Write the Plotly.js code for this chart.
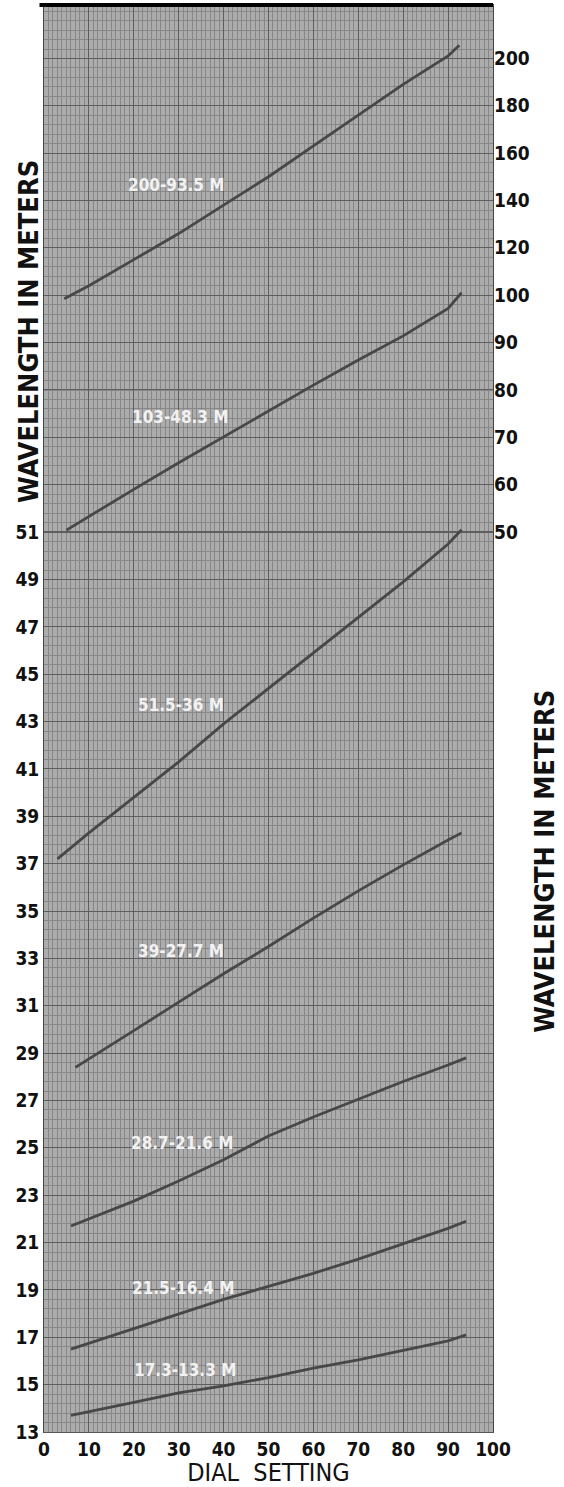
<!DOCTYPE html>
<html>
<head>
<meta charset="utf-8">
<script src="https://cdn.plot.ly/plotly-3.0.1.min.js"></script>
<style>
html,body{margin:0;padding:0;background:#fff;}
#chart{width:564px;height:1487px;}
</style>
</head>
<body>
<div id="chart"></div>
<script>
// ---- data (dial setting vs wavelength in metres) ----
const c1Dial = [4.5, 10, 20, 30, 40, 50, 60, 70, 80, 90, 92.5];
const c1Wave = [98.5, 104, 115, 126, 138, 150, 163, 176, 189, 201, 205.5];
const c2Dial = [5, 10, 20, 30, 40, 50, 60, 70, 80, 90, 93];
const c2Wave = [50.4, 53.3, 59, 64.6, 70.1, 75.6, 81, 86.3, 91.4, 97.2, 100.5];
const c3Dial = [3, 10, 20, 30, 40, 50, 60, 70, 80, 90, 93];
const c3Wave = [37.2, 38.3, 39.8, 41.3, 42.9, 44.4, 45.9, 47.4, 48.9, 50.5, 51.1];
const c4Dial = [7, 10, 20, 30, 40, 50, 60, 70, 80, 90, 93];
const c4Wave = [28.4, 28.75, 29.95, 31.15, 32.35, 33.5, 34.7, 35.85, 36.95, 38.0, 38.3];
const c5Dial = [6, 10, 20, 30, 40, 50, 60, 70, 80, 90, 94];
const c5Wave = [21.7, 22.0, 22.75, 23.6, 24.5, 25.5, 26.3, 27.05, 27.8, 28.5, 28.8];
const c6Dial = [6, 10, 20, 30, 40, 50, 60, 70, 80, 90, 94];
const c6Wave = [16.5, 16.75, 17.35, 18.0, 18.6, 19.15, 19.7, 20.3, 20.95, 21.6, 21.9];
const c7Dial = [6, 10, 20, 30, 40, 50, 60, 70, 80, 90, 94];
const c7Wave = [13.7, 13.85, 14.25, 14.65, 14.95, 15.3, 15.7, 16.05, 16.45, 16.85, 17.1];

const bandLabels = ['200-93.5 M', '103-48.3 M', '51.5-36 M', '39-27.7 M', '28.7-21.6 M', '21.5-16.4 M', '17.3-13.3 M'];

const xTicks = [0, 10, 20, 30, 40, 50, 60, 70, 80, 90, 100];
const leftTicks = [13, 15, 17, 19, 21, 23, 25, 27, 29, 31, 33, 35, 37, 39, 41, 43, 45, 47, 49, 51];
const rightTicksLow = [50, 60, 70, 80, 90, 100];
const rightTicksHigh = [120, 140, 160, 180, 200];

const axisTitle = 'WAVELENGTH IN METERS';
const xTitle = 'DIAL  SETTING';

// ---- styling ----
const condensed = 'DejaVu Sans Condensed, DejaVu Sans, sans-serif';
const tickFont = {family: condensed, size: 19, color: '#111', weight: 'bold'};
const lineStyle = {color: '#474747', width: 2.8};
const bandFont = {family: condensed, size: 17, color: '#f2f2f2', weight: 'bold'};
const titleFont = {family: condensed, size: 27, color: '#111', weight: 'bold'};

function curve(x, y, axis) {
  return {x: x, y: y, yaxis: axis, type: 'scatter', mode: 'lines', line: lineStyle, hoverinfo: 'skip', showlegend: false};
}

const traces = [
  curve(c1Dial, c1Wave, 'y3'),
  curve(c2Dial, c2Wave, 'y2'),
  curve(c3Dial, c3Wave, 'y'),
  curve(c4Dial, c4Wave, 'y'),
  curve(c5Dial, c5Wave, 'y'),
  curve(c6Dial, c6Wave, 'y'),
  curve(c7Dial, c7Wave, 'y')
];

const labelAxes = ['y3', 'y2', 'y', 'y', 'y', 'y', 'y'];
const labelX = [29.5, 30.4, 30.5, 30.5, 30.7, 31, 31.5];
const labelY = [146.4, 74.3, 43.7, 33.3, 25.2, 19.1, 15.6];

const annotations = bandLabels.map((t, i) => ({
  text: t, x: labelX[i], y: labelY[i], xref: 'x', yref: labelAxes[i],
  showarrow: false, font: bandFont
}));
annotations.push({
  text: axisTitle, textangle: -90, xref: 'paper', yref: 'paper',
  x: -0.033, xanchor: 'center', y: 0.771, yanchor: 'middle', showarrow: false,
  font: titleFont
});
annotations.push({
  text: axisTitle, textangle: -90, xref: 'paper', yref: 'paper',
  x: 1.115, xanchor: 'center', y: 0.40, yanchor: 'middle', showarrow: false,
  font: titleFont
});

const gridMajor = '#5e5e5e';
const gridMinor = '#878787';
const layout = {
  width: 564, height: 1487,
  margin: {l: 44, r: 71, t: 5, b: 55},
  paper_bgcolor: '#ffffff',
  plot_bgcolor: '#acacac',
  showlegend: false,
  xaxis: {
    range: [0, 100], tickmode: 'array', tickvals: xTicks,
    tickfont: tickFont, ticks: '', showgrid: true, gridcolor: gridMajor, gridwidth: 1,
    minor: {tick0: 0, dtick: 1, showgrid: true, gridcolor: gridMinor, gridwidth: 1},
    zeroline: false, showline: true, linecolor: '#555', linewidth: 1, mirror: true,
    title: {text: xTitle, font: {family: condensed, size: 25, color: '#111'}, standoff: 4},
    fixedrange: true
  },
  yaxis: {
    range: [13, 73.26], tickmode: 'array', tickvals: leftTicks,
    tickfont: tickFont, ticks: '', showgrid: true, gridcolor: gridMajor, gridwidth: 1,
    minor: {tick0: 13, dtick: 0.4, showgrid: true, gridcolor: gridMinor, gridwidth: 1},
    zeroline: false, showline: true, linecolor: '#444', linewidth: 1, mirror: true,
    fixedrange: true
  },
  yaxis2: {
    overlaying: 'y', side: 'right', anchor: 'x',
    range: [-140, 161.25], tickmode: 'array', tickvals: rightTicksLow,
    tickfont: tickFont, ticks: '', showgrid: true, gridcolor: gridMajor, gridwidth: 1,
    zeroline: false, fixedrange: true
  },
  yaxis3: {
    overlaying: 'y', side: 'right', anchor: 'x',
    range: [-380, 222.5], tickmode: 'array', tickvals: rightTicksHigh,
    tickfont: tickFont, ticks: '', showgrid: true, gridcolor: gridMajor, gridwidth: 1,
    zeroline: false, fixedrange: true
  },
  shapes: [
    {type: 'line', xref: 'paper', yref: 'paper', x0: -0.01, x1: 1.0, y0: 1, y1: 1, line: {color: '#000', width: 4}}
  ],
  annotations: annotations
};

Plotly.newPlot('chart', traces, layout, {staticPlot: true, displayModeBar: false});
</script>
</body>
</html>
